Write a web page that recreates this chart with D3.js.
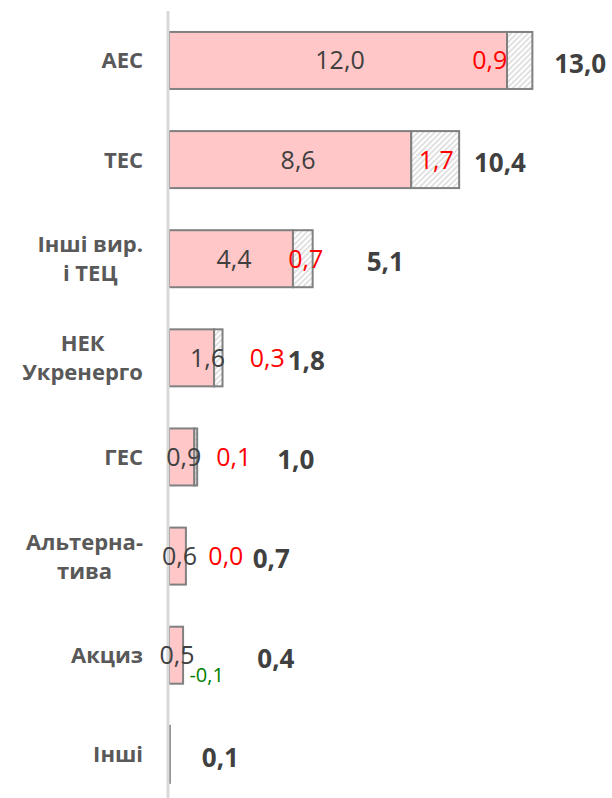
<!DOCTYPE html>
<html>
<head>
<meta charset="utf-8">
<script src="https://cdn.jsdelivr.net/npm/d3@7"></script>
<style>
  body { margin: 0; background: #fff; }
  text { font-family: "Open Sans", sans-serif; }
</style>
</head>
<body>
<svg id="chart"></svg>
<script>
// data
const categories = [["АЕС"], ["ТЕС"], ["Інші вир.", "і ТЕЦ"], ["НЕК", "Укренерго"], ["ГЕС"], ["Альтерна-", "тива"], ["Акциз"], ["Інші"]];
const baseValues = [12.0, 8.6, 4.4, 1.6, 0.9, 0.6, 0.5, 0.03];
const deltaValues = [0.9, 1.7, 0.7, 0.3, 0.1, 0.0, -0.1, null];
const totalValues = [13.0, 10.4, 5.1, 1.8, 1.0, 0.7, 0.4, 0.1];

// label nudges (px), the labels were hand placed in the original
const baseLabelDx = [2, 8, 3, 16, 2, 2, 1, 0];
const deltaLabelDx = [-30, 1, 3, 49, 38, 40, 25, 0];
const totalLabelDx = [19, 12, 54, 68, 80, 64, 77, 30];

const width = 612;
const height = 798;

const locale = d3.formatLocale({decimal: ",", thousands: " ", grouping: [3], currency: ["", ""], minus: "-"});
const fmt = locale.format(".1f");

const svg = d3.select("#chart")
    .attr("width", width)
    .attr("height", height);

const defs = svg.append("defs");
const hatch = defs.append("pattern")
    .attr("id", "hatch")
    .attr("patternUnits", "userSpaceOnUse")
    .attr("width", 4)
    .attr("height", 4)
    .attr("patternTransform", "rotate(45)");
hatch.append("rect").attr("width", 4).attr("height", 4).attr("fill", "#fff");
hatch.append("line")
    .attr("x1", 1).attr("y1", 0).attr("x2", 1).attr("y2", 4)
    .attr("stroke", "#c4c4c4").attr("stroke-width", 1);

const x = d3.scaleLinear().domain([0, 13]).range([169, 535.2]);
const y = d3.scaleBand().domain(d3.range(categories.length)).range([10.9, 803.9])
    .paddingInner(0.425).paddingOuter(0.2125);

const rows = categories.map((c, i) => ({
    lines: c,
    base: baseValues[i],
    delta: deltaValues[i],
    total: totalValues[i],
    i: i
}));

// base bars
svg.append("g").selectAll("rect")
    .data(rows)
    .join("rect")
    .attr("x", x(0))
    .attr("y", d => y(d.i))
    .attr("width", d => x(d.base) - x(0))
    .attr("height", y.bandwidth())
    .attr("fill", "#ffc7c7")
    .attr("stroke", "#808080")
    .attr("stroke-width", 2);

// change on top (hatched)
svg.append("g").selectAll("rect")
    .data(rows.filter(d => d.delta > 0))
    .join("rect")
    .attr("x", d => x(d.base))
    .attr("y", d => y(d.i))
    .attr("width", d => x(d.base + d.delta) - x(d.base))
    .attr("height", y.bandwidth())
    .attr("fill", "url(#hatch)")
    .attr("stroke", "#808080")
    .attr("stroke-width", 2);

// vertical axis line
svg.append("line")
    .attr("x1", 168).attr("x2", 168)
    .attr("y1", 11).attr("y2", height)
    .attr("stroke", "#d9d9d9")
    .attr("stroke-width", 3);

const mid = i => y(i) + y.bandwidth() / 2;

// base labels
svg.append("g").selectAll("text")
    .data(rows.filter(d => d.delta !== null))
    .join("text")
    .attr("x", d => (x(0) + x(d.base)) / 2 + baseLabelDx[d.i])
    .attr("y", d => mid(d.i))
    .attr("dy", "0.36em")
    .attr("text-anchor", "middle")
    .attr("font-size", 25)
    .attr("fill", "#404040")
    .text(d => fmt(d.base));

// change labels
svg.append("g").selectAll("text")
    .data(rows.filter(d => d.delta !== null))
    .join("text")
    .attr("x", d => x(d.base + d.delta / 2) + deltaLabelDx[d.i])
    .attr("y", d => mid(d.i) + (d.delta < 0 ? 20 : 0))
    .attr("dy", "0.36em")
    .attr("text-anchor", "middle")
    .attr("font-size", d => d.delta < 0 ? 20 : 25)
    .attr("fill", d => d.delta < 0 ? "#008000" : "#ff0000")
    .text(d => fmt(d.delta));

// totals
svg.append("g").selectAll("text")
    .data(rows)
    .join("text")
    .attr("x", d => x(d.total) + totalLabelDx[d.i])
    .attr("y", d => mid(d.i) + 3)
    .attr("dy", "0.36em")
    .attr("font-size", 26)
    .attr("font-weight", "bold")
    .attr("fill", "#404040")
    .text(d => fmt(d.total));

// category labels: block right aligned, lines centred in it
const lineGap = 29;
const cat = svg.append("g").selectAll("text")
    .data(rows)
    .join("text")
    .attr("font-size", 22)
    .attr("font-weight", "bold")
    .attr("fill", "#595959")
    .attr("text-anchor", "middle");

cat.each(function(d) {
    const t = d3.select(this);
    const n = d.lines.length;
    const spans = d.lines.map((s, k) => t.append("tspan")
        .attr("y", mid(d.i) + (k - (n - 1) / 2) * lineGap)
        .attr("dy", "0.36em")
        .text(s));
    const w = d3.max(spans, s => s.node().getComputedTextLength());
    spans.forEach(s => s.attr("x", 143 - w / 2));
});
</script>
</body>
</html>
